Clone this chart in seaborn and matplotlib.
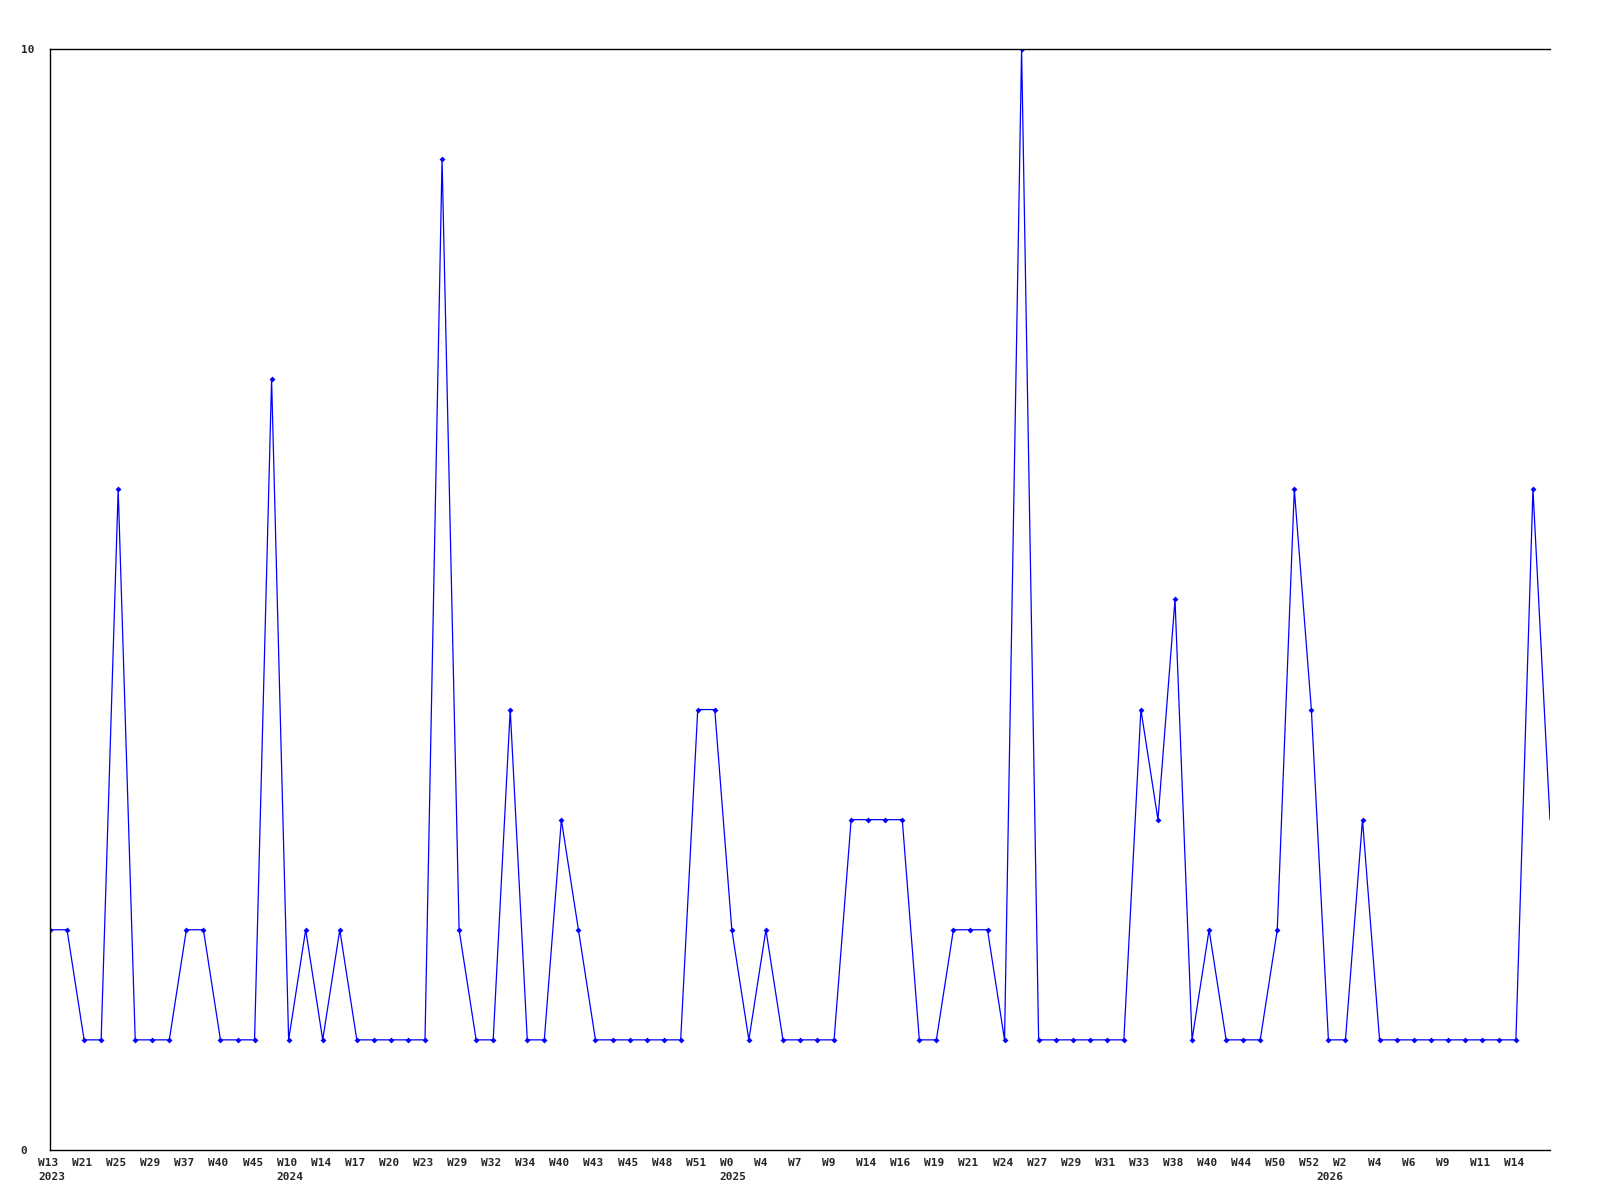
import numpy as np
import pandas as pd
import seaborn as sns
import matplotlib.pyplot as plt
import matplotlib.transforms as mtransforms

# weekly counts
counts = [2, 2, 1, 1, 6, 1, 1, 1, 2, 2,
          1, 1, 1, 7, 1, 2, 1, 2, 1, 1,
          1, 1, 1, 9, 2, 1, 1, 4, 1, 1,
          3, 2, 1, 1, 1, 1, 1, 1, 4, 4,
          2, 1, 2, 1, 1, 1, 1, 3, 3, 3,
          3, 1, 1, 2, 2, 2, 1, 10, 1, 1,
          1, 1, 1, 1, 4, 3, 5, 1, 2, 1,
          1, 1, 2, 6, 4, 1, 1, 3, 1, 1,
          1, 1, 1, 1, 1, 1, 1, 6, 3]

# labels shown on every second point
week_labels = ["W13", "W21", "W25", "W29", "W37", "W40", "W45", "W10", "W14", "W17",
               "W20", "W23", "W29", "W32", "W34", "W40", "W43", "W45", "W48", "W51",
               "W0", "W4", "W7", "W9", "W14", "W16", "W19", "W21", "W24", "W27",
               "W29", "W31", "W33", "W38", "W40", "W44", "W50", "W52", "W2", "W4",
               "W6", "W9", "W11", "W14"]
year_labels = ["2023", "2024", "2025", "2026"]
year_pos = [0, 14, 40, 75]

df = pd.DataFrame({"idx": np.arange(len(counts)), "count": counts})

sns.set_style("white")
plt.rcParams['font.family'] = ['DejaVu Sans Mono']
plt.rcParams['font.weight'] = 'bold'

fig = plt.figure(figsize=(16, 12), dpi=100)
ax = fig.add_axes([0.03125, 0.0417, 0.9375, 0.9175])

sns.lineplot(data=df, x="idx", y="count", ax=ax, color="#0000ff", linewidth=0.9,
             marker="D", markersize=3, markeredgewidth=0, markevery=list(range(len(counts) - 1)))

ax.set_xlim(0, len(counts) - 1)
ax.set_ylim(0, 10)
ax.set_xlabel("")
ax.set_ylabel("")

ax.set_yticks([0, 10])
ax.set_yticklabels(["0", "10"], fontsize=8, fontweight="bold")
ax.tick_params(axis="y", length=0, pad=21)
for lab in ax.get_yticklabels():
    lab.set_horizontalalignment("left")

xt = list(range(0, 2 * len(week_labels), 2))
ax.set_xticks(xt)
ax.set_xticklabels(week_labels, fontsize=8, fontweight="bold")
ax.tick_params(axis="x", length=0, pad=6)
# labels start a little left of their tick
shift = mtransforms.ScaledTranslation(-12 / 100, 0, fig.dpi_scale_trans)
for lab in ax.get_xticklabels():
    lab.set_horizontalalignment("left")
    lab.set_transform(lab.get_transform() + shift)

for yr, pos in zip(year_labels, year_pos):
    ax.annotate(yr, xy=(pos, 0), xycoords=("data", "axes fraction"),
                xytext=(-8.6, -16), textcoords="offset points",
                ha="left", va="top", fontsize=8, fontweight="bold")

for side in ["left", "top", "bottom"]:
    ax.spines[side].set_color("black")
    ax.spines[side].set_linewidth(1)
ax.spines["right"].set_visible(False)

fig.savefig("out.png", dpi=100)
